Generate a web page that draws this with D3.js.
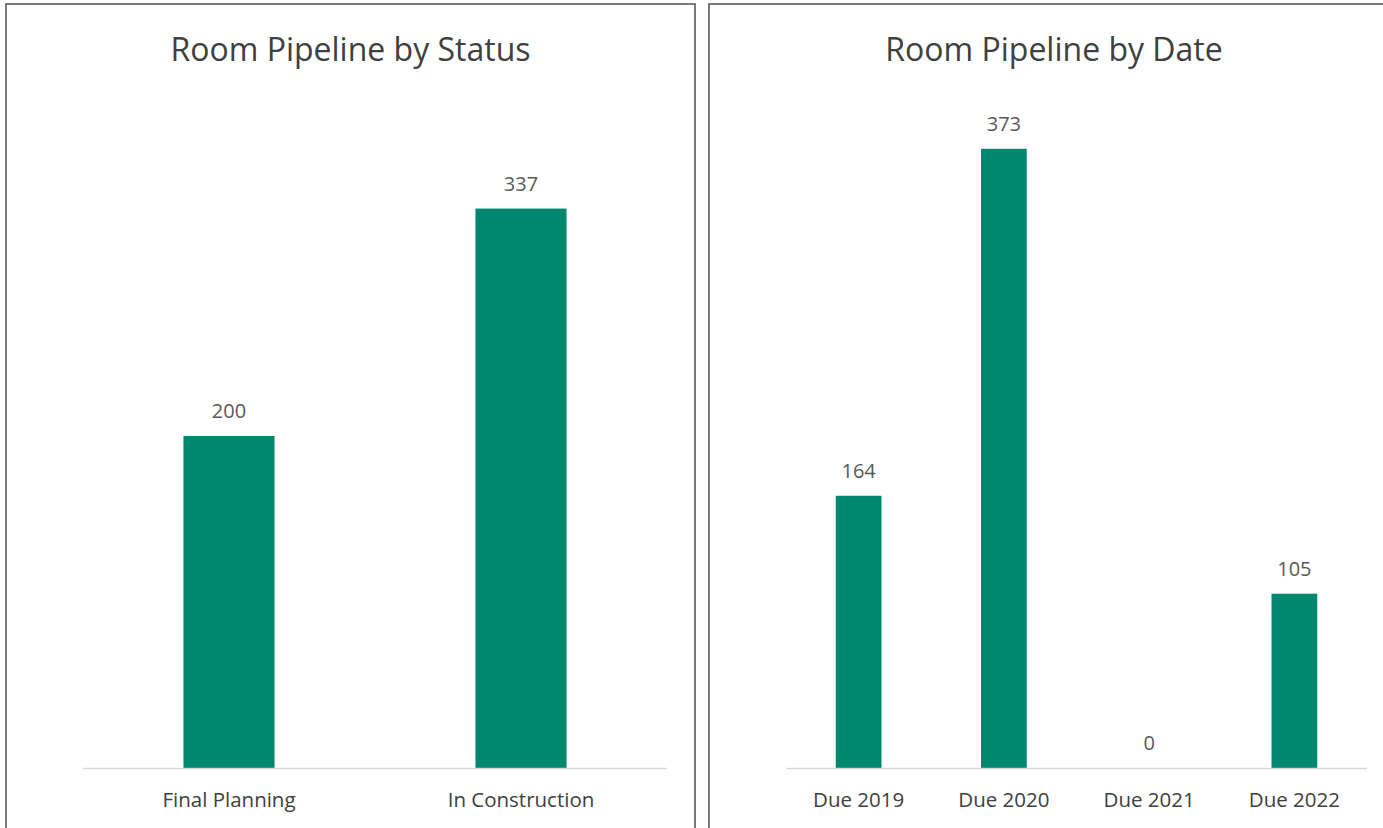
<!DOCTYPE html>
<html>
<head>
<meta charset="utf-8">
<script src="https://cdn.jsdelivr.net/npm/d3@7"></script>
<style>
  body { margin: 0; background: #fff; overflow: hidden; }
  text { font-family: "Open Sans", "Noto Sans", sans-serif; }
</style>
</head>
<body>
<div id="canvas"></div>
<script>
// data
var statusCats = ['Final Planning', 'In Construction'];
var statusVals = [200, 337];
var dateCats = ['Due 2019', 'Due 2020', 'Due 2021', 'Due 2022'];
var dateVals = [164, 373, 0, 105];

var W = 1383, H = 828;
var svg = d3.select('#canvas').append('svg')
    .attr('width', W).attr('height', H);

var teal = '#00876f';

function panel(opt) {
  var g = svg.append('g');
  // frame
  g.append('rect')
    .attr('x', opt.x0).attr('y', 4)
    .attr('width', opt.x1 - opt.x0).attr('height', H + 20)
    .attr('fill', '#fff')
    .attr('stroke', '#595959').attr('stroke-width', 1.6);

  g.append('text')
    .attr('x', (opt.x0 + opt.x1) / 2).attr('y', 61)
    .attr('text-anchor', 'middle')
    .attr('font-size', 32)
    .attr('fill', '#404040')
    .text(opt.title);

  var x = d3.scaleBand().domain(opt.cats).range([opt.l, opt.r]).paddingInner(opt.pad).paddingOuter(opt.pad / 2);
  var y = d3.scaleLinear().domain([0, 400]).range([768, 104]);

  var data = opt.cats.map(function(c, i) { return {c: c, v: opt.vals[i]}; });

  g.selectAll('.bar').data(data).enter().append('rect')
    .attr('class', 'bar')
    .attr('x', function(d) { return x(d.c); })
    .attr('width', x.bandwidth())
    .attr('y', function(d) { return y(d.v); })
    .attr('height', function(d) { return y(0) - y(d.v); })
    .attr('fill', teal);

  g.append('line')
    .attr('x1', opt.l).attr('x2', opt.r)
    .attr('y1', y(0) + 0.5).attr('y2', y(0) + 0.5)
    .attr('stroke', '#d9d9d9').attr('stroke-width', 1.5);

  g.selectAll('.val').data(data).enter().append('text')
    .attr('class', 'val')
    .attr('x', function(d) { return x(d.c) + x.bandwidth() / 2; })
    .attr('y', function(d) { return y(d.v) - 18; })
    .attr('text-anchor', 'middle')
    .attr('font-size', 20)
    .attr('fill', '#595959')
    .text(function(d) { return d.v; });

  var ax = d3.axisBottom(x).tickSize(0).tickPadding(24);
  var axg = g.append('g').attr('transform', 'translate(0,' + y(0) + ')').call(ax);
  axg.select('.domain').remove();
  axg.selectAll('text')
    .attr('font-size', 20.5)
    .attr('fill', '#404040')
    .style('font-family', '"Open Sans", "Noto Sans", sans-serif');
}

panel({x0: 6, x1: 695, l: 83, r: 667, title: 'Room Pipeline by Status',
       cats: statusCats, vals: statusVals, pad: 0.688});
panel({x0: 709, x1: 1399, l: 786, r: 1367, title: 'Room Pipeline by Date',
       cats: dateCats, vals: dateVals, pad: 0.685});
</script>
</body>
</html>
